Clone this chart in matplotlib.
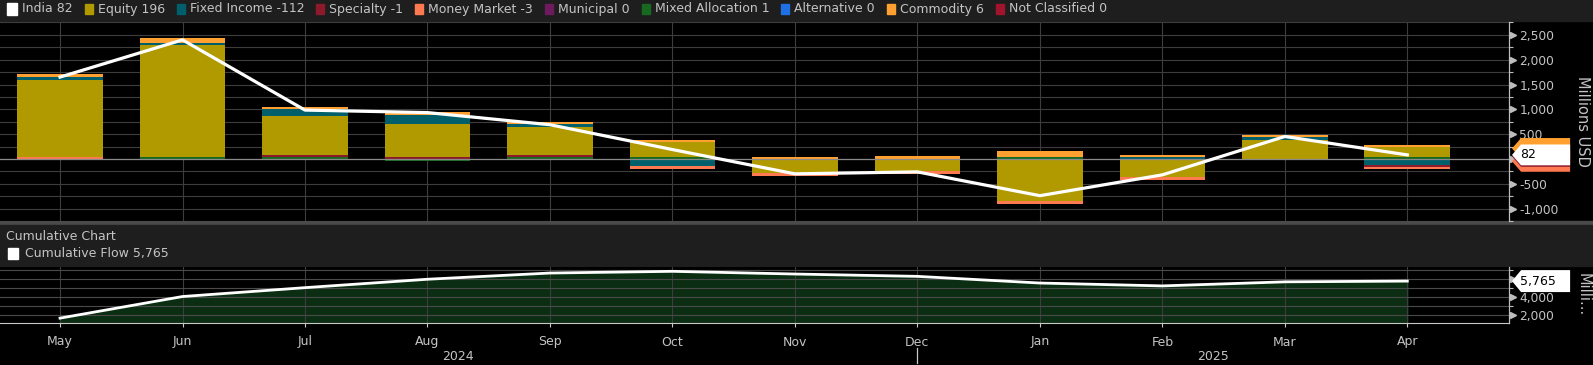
import numpy as np
import matplotlib
matplotlib.use("Agg")
import matplotlib.pyplot as plt
from matplotlib.patches import Rectangle, Polygon
from matplotlib.transforms import blended_transform_factory

plt.rcParams['font.family'] = ['DejaVu Sans']

# ---- data (millions USD), May 2024 .. Apr 2025 ----
months = ["May", "Jun", "Jul", "Aug", "Sep", "Oct", "Nov", "Dec", "Jan", "Feb", "Mar", "Apr"]
india = [1650, 2400, 985, 935, 690, 190, -300, -260, -740, -320, 453, 82]
cumulative = [1650, 4050, 5035, 5970, 6660, 6850, 6550, 6290, 5550, 5230, 5683, 5765]

equity = [1555, 2250, 780, 650, 560, 300, -285, -250, -850, -360, 390, 196]
fixed_income = [35, 45, 130, 200, 30, -145, 0, 0, 0, 40, 30, -112]
specialty = [0, 0, 20, 25, 25, 0, 0, 0, 0, 0, 0, -1]
money_market = [45, 0, 0, 0, 0, -55, -65, -50, -60, -55, 0, -3]
municipal = [0, 0, 0, 0, 0, 0, 0, 0, 0, 0, 0, 0]
mixed_allocation = [0, 45, 30, -50, 25, 30, 0, 0, 40, 0, 0, 1]
alternative = [0, 0, 0, 0, 0, 0, 0, 0, 0, 0, 0, 0]
commodity = [65, 90, 25, 60, 60, 45, 45, 60, 110, 40, 30, 6]
not_classified = [0, 0, 0, 0, 0, 0, 0, 0, 0, 0, 0, 0]

legend_names = ["India", "Equity", "Fixed Income", "Specialty", "Money Market", "Municipal",
                "Mixed Allocation", "Alternative", "Commodity", "Not Classified"]
legend_values = ["82", "196", "-112", "-1", "-3", "0", "1", "0", "6", "0"]

colors = {
    "India": "#ffffff", "Equity": "#b09a00", "Fixed Income": "#005f6b", "Specialty": "#8c1a2b",
    "Money Market": "#ff7a50", "Municipal": "#6d1b5e", "Mixed Allocation": "#17691f",
    "Alternative": "#1f6fe5", "Commodity": "#ffa030", "Not Classified": "#a0142d",
}
series = {
    "Equity": equity, "Fixed Income": fixed_income, "Specialty": specialty,
    "Money Market": money_market, "Municipal": municipal, "Mixed Allocation": mixed_allocation,
    "Alternative": alternative, "Commodity": commodity, "Not Classified": not_classified,
}
pos_order = ["Money Market", "Mixed Allocation", "Specialty", "Equity", "Fixed Income",
             "Municipal", "Alternative", "Not Classified", "Commodity"]
neg_order = ["Equity", "Fixed Income", "Specialty", "Mixed Allocation", "Municipal",
             "Alternative", "Not Classified", "Commodity", "Money Market"]

W, H = 1593, 365
BG = "black"
GRID = "#3d3d3d"
TXT = "#c4c4c4"
MIN_H = 45  # bloomberg-ish minimum visible segment height


def fy(px):
    return 1 - px / H


fig = plt.figure(figsize=(W / 100, H / 100), dpi=100, facecolor=BG)

# bands
fig.add_artist(Rectangle((0, fy(21)), 1, 21 / H, transform=fig.transFigure, color="#1e1e1e", zorder=0))
fig.add_artist(Rectangle((0, fy(225)), 1, 4 / H, transform=fig.transFigure, color="#4a4a4a", zorder=0))
fig.add_artist(Rectangle((0, fy(266)), 1, 41 / H, transform=fig.transFigure, color="#1e1e1e", zorder=0))

ax1 = fig.add_axes([0, fy(221), 1509 / W, (221 - 22) / H], facecolor=BG)
ax2 = fig.add_axes([0, fy(323), 1509 / W, (323 - 267) / H], facecolor=BG)
x = np.arange(len(months))

# ---- main chart: stacked bars ----
pos = np.zeros(len(x))
neg = np.zeros(len(x))
for name in pos_order:
    v = np.array(series[name], dtype=float)
    shown = np.where(v > 0, np.maximum(v, MIN_H), 0)
    m = shown > 0
    if m.any():
        ax1.bar(x[m], shown[m], bottom=pos[m], width=0.70, color=colors[name], zorder=2)
        pos[m] += shown[m]
for name in neg_order:
    v = np.array(series[name], dtype=float)
    shown = np.where(v < 0, np.minimum(v, -MIN_H), 0)
    m = shown < 0
    if m.any():
        ax1.bar(x[m], shown[m], bottom=neg[m], width=0.70, color=colors[name], zorder=2)
        neg[m] += shown[m]

ax1.axhline(0, color="#8a8a8a", lw=0.9, zorder=3)
ax1.plot(x, india, color="white", lw=2.3, zorder=5)

ax1.set_xlim(-0.49, 11.83)
ax1.set_ylim(-1220, 2760)
ax1.set_xticks(x)
ax1.set_xticklabels([])
ax1.set_yticks(np.arange(-1000, 2501, 500))
ax1.set_yticks(np.arange(-1250, 2751, 250), minor=True)
# the 0 label sits behind the last-value tag
ax1.set_yticklabels([f"{v:,}" if v != 0 else "" for v in range(-1000, 2501, 500)])
ax1.grid(True, which="both", axis="y", color=GRID, lw=0.8, zorder=0)
ax1.grid(True, which="major", axis="x", color=GRID, lw=0.8, zorder=0)
ax1.set_axisbelow(True)

ax2.set_xlim(-0.49, 11.83)
ax2.set_ylim(1110, 7330)
ax2.fill_between(x, cumulative, 0, color="#0b2e12", zorder=1)
ax2.plot(x, cumulative, color="white", lw=2.0, zorder=5)
ax2.set_xticks(x)
ax2.set_xticklabels(months)
ax2.set_yticks([2000, 4000, 6000])
ax2.set_yticks([3000, 5000, 7000], minor=True)
ax2.set_yticklabels(["2,000", "4,000", ""])
ax2.grid(True, which="both", axis="y", color="#4a4a4a", lw=0.8, zorder=2)
ax2.grid(True, which="major", axis="x", color=GRID, lw=0.8, zorder=2)

for ax in (ax1, ax2):
    ax.yaxis.tick_right()
    for s in ("top", "left", "bottom"):
        ax.spines[s].set_visible(False)
    ax.spines["right"].set_color("#bdbdbd")
    ax.spines["right"].set_linewidth(0.9)
    ax.tick_params(axis="y", which="major", length=0, pad=7.5, labelsize=8.8, labelcolor=TXT)
    ax.tick_params(axis="y", which="minor", length=3, width=0.8, color="#bdbdbd", direction="out")
    tr = blended_transform_factory(ax.transAxes, ax.transData)
    ax.plot(np.full(len(ax.get_yticks()), 1.0025), ax.get_yticks(), ls="none", marker=">",
            ms=4, color="#bdbdbd", transform=tr, clip_on=False)

ax1.tick_params(axis="x", length=0)
ax2.spines["bottom"].set_visible(True)
ax2.spines["bottom"].set_color("#c8c8c8")
ax2.tick_params(axis="x", length=3, color="#c8c8c8", pad=6, labelsize=9, labelcolor=TXT)

# year labels under the months
trx = blended_transform_factory(ax2.transData, ax2.transAxes)
ax2.text(3.25, -0.60, "2024", transform=trx, ha="center", va="center", color=TXT, fontsize=9)
ax2.text(9.41, -0.60, "2025", transform=trx, ha="center", va="center", color=TXT, fontsize=9)
ax2.plot([7, 7], [-0.45, -0.72], transform=trx, color="#c8c8c8", lw=0.9, clip_on=False)


def tag(ax, yval, half, color, text=None):
    tr = blended_transform_factory(ax.transAxes, ax.transData)
    pts = [(1.002, yval), (1.008, yval + half), (1.0405, yval + half),
           (1.0405, yval - half), (1.008, yval - half)]
    ax.add_patch(Polygon(pts, closed=True, transform=tr, facecolor=color,
                         edgecolor="none", clip_on=False, zorder=10))
    if text:
        ax.text(1.0075, yval, text, transform=tr, ha="left", va="center",
                color="black", fontsize=9, clip_on=False, zorder=11)


tag(ax1, india[-1] - 130, 210, colors["Money Market"])
tag(ax1, india[-1] - 30, 210, colors["Specialty"])
tag(ax1, india[-1] + 130, 210, colors["Commodity"])
tag(ax1, india[-1], 210, "white", f"{india[-1]:,}")
tag(ax2, cumulative[-1], 1220, "white", f"{cumulative[-1]:,}")

fig.text(1583 / W, fy(121), "Millions USD", rotation=270, ha="center", va="center",
         color=TXT, fontsize=10.5)
fig.text(1583 / W, fy(295), "Milli...", rotation=270, ha="center", va="center",
         color=TXT, fontsize=10.5)

# header of the cumulative panel
fig.text(6 / W, fy(236), "Cumulative Chart", ha="left", va="center", color=TXT, fontsize=9)
fig.add_artist(Rectangle((8 / W, fy(259)), 10 / W, 11 / H, transform=fig.transFigure, color="white"))
fig.text(25 / W, fy(254), f"Cumulative Flow {cumulative[-1]:,}", ha="left", va="center",
         color=TXT, fontsize=9)

# top legend
renderer = fig.canvas.get_renderer()
xp = 7
for name, val in zip(legend_names, legend_values):
    sw, sh = (10, 12) if name == "India" else (8, 9)
    fig.add_artist(Rectangle((xp / W, fy(9 + sh / 2)), sw / W, sh / H,
                             transform=fig.transFigure, color=colors[name]))
    t = fig.text((xp + sw + 5) / W, fy(9), f"{name} {val}", ha="left", va="center",
                 color=TXT, fontsize=9)
    xp = t.get_window_extent(renderer).x1 + 12

fig.savefig("out.png", dpi=100, facecolor=BG)
